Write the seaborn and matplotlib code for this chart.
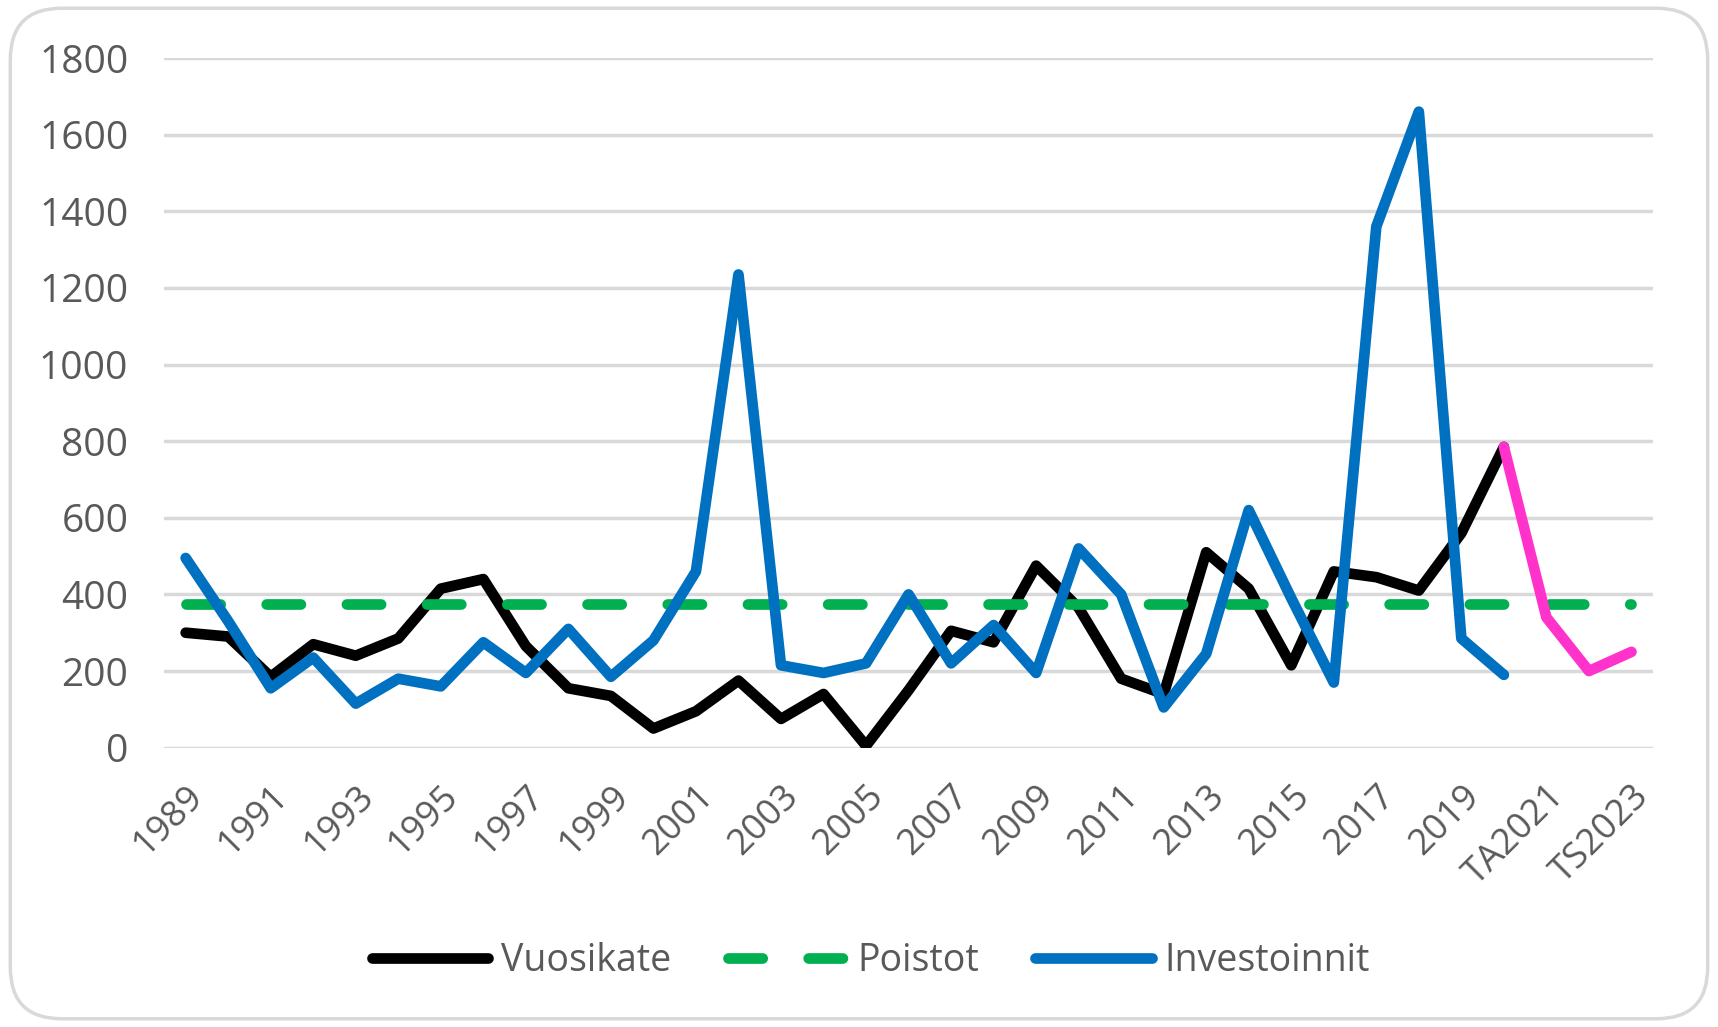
import numpy as np
import pandas as pd
import seaborn as sns
import matplotlib.pyplot as plt
from matplotlib.patches import FancyBboxPatch

# categories: 1989..2020, then budget/plan years
years = [str(y) for y in range(1989, 2021)] + ["TA2021", "TS2022", "TS2023"]

vuosikate = [300, 290, 185, 270, 240, 285, 415, 440, 265, 155,
             135, 50, 95, 175, 75, 140, 5, 150, 305, 275,
             475, 365, 180, 140, 510, 415, 215, 460, 445, 410,
             560, 785]
vuosikate_ennuste = [785, 340, 200, 250]   # 2020 -> TS2023
investoinnit = [495, 330, 155, 235, 115, 180, 160, 275, 195, 310,
                185, 280, 460, 1235, 215, 195, 220, 400, 220, 320,
                195, 520, 400, 105, 245, 620, 390, 170, 1360, 1660,
                285, 190]
poistot = [375] * len(years)

n = len(years)
idx = np.arange(n)

sns.set_style("white")
plt.rcParams["font.family"] = ["Open Sans", "DejaVu Sans"]

fig = plt.figure(figsize=(17.18, 10.27), dpi=100)
ax = fig.add_axes([0.0957, 0.272, 0.8663, 0.6715])

lw = 7.7
round_kw = dict(solid_capstyle="round", solid_joinstyle="round")
sns.lineplot(x=idx[:len(vuosikate)], y=vuosikate, color="black", linewidth=lw,
             label="Vuosikate", ax=ax, **round_kw)
sns.lineplot(x=idx, y=poistot, color="#00B050", linewidth=lw, label="Poistot", ax=ax,
             linestyle=(0, (3.2, 4.3)), dash_capstyle="round")
sns.lineplot(x=idx[:len(investoinnit)], y=investoinnit, color="#0070C0", linewidth=lw,
             label="Investoinnit", ax=ax, **round_kw)
sns.lineplot(x=idx[len(vuosikate) - 1:], y=vuosikate_ennuste, color="#FF33CC", linewidth=lw,
             label="_nolegend_", ax=ax, **round_kw)

ax.set_xlim(-0.5, n - 0.5)
ax.set_ylim(0, 1800)
ax.set_yticks(range(0, 1801, 200))
ax.yaxis.grid(True, color="#d9d9d9", linewidth=2.5)
ax.set_axisbelow(True)
for s in ax.spines.values():
    s.set_visible(False)

ax.set_xticks(idx[::2])
ax.set_xticklabels(years[::2], rotation=45, ha="right", rotation_mode="anchor")
ax.tick_params(axis="both", length=0, labelcolor="#595959")
ax.tick_params(axis="y", pad=26, labelsize=28)
ax.tick_params(axis="x", pad=22, labelsize=26)

ax.legend(loc="center", bbox_to_anchor=(0.507, 0.064), bbox_transform=fig.transFigure,
          ncol=3, frameon=False, fontsize=27, handlelength=3.1, handletextpad=0.35,
          columnspacing=1.5, labelcolor="#595959")

# rounded chart border
border = FancyBboxPatch((0.006, 0.008), 0.988, 0.984, boxstyle="round,pad=0,rounding_size=0.03",
                        transform=fig.transFigure, fill=False, edgecolor="#d9d9d9",
                        linewidth=2.5, mutation_aspect=1718 / 1027)
fig.patches.append(border)

fig.savefig("out.png", dpi=100, facecolor="white")
